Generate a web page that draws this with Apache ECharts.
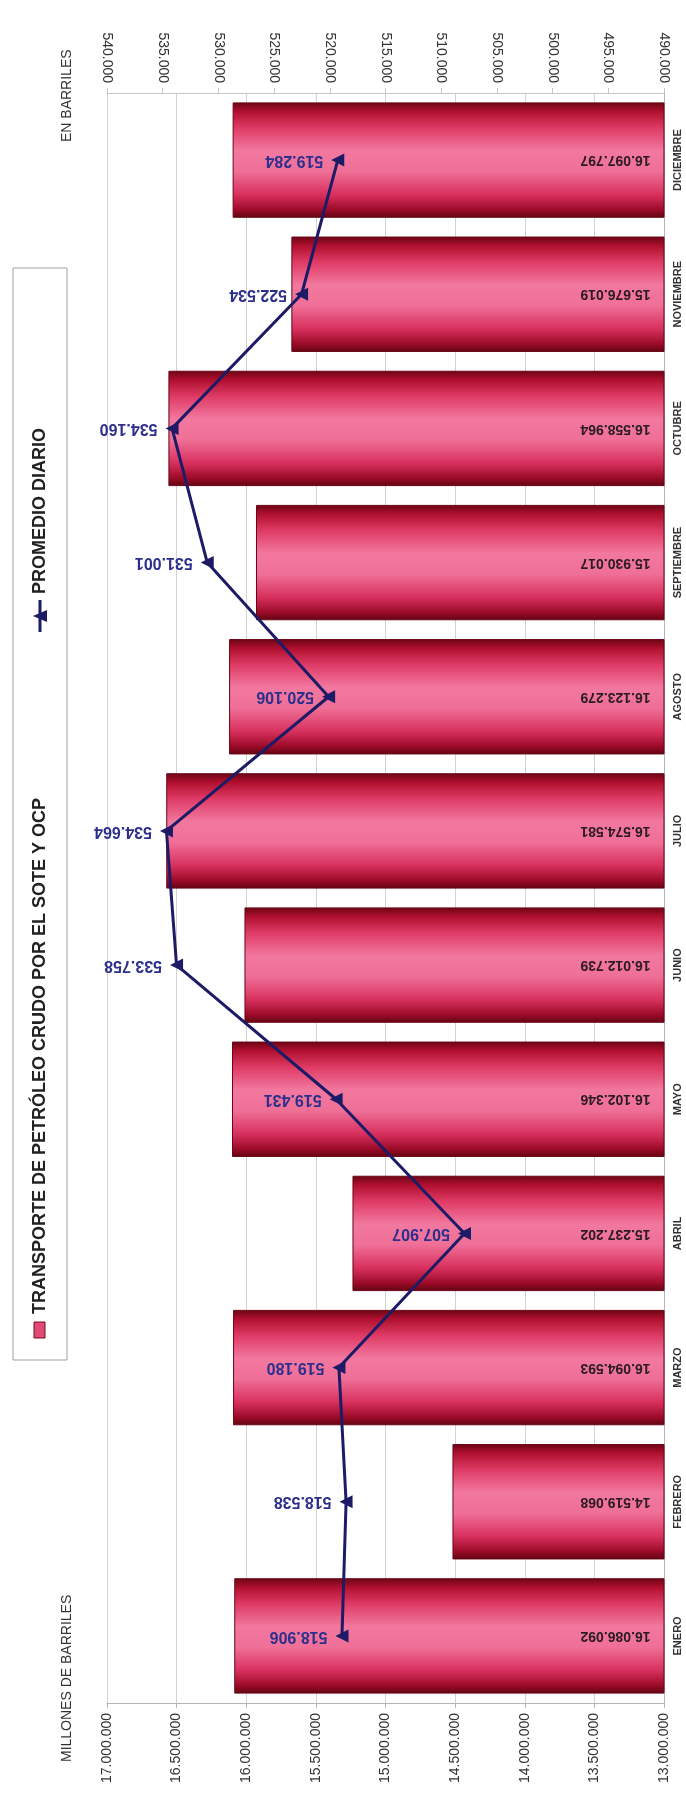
<!DOCTYPE html>
<html>
<head>
<meta charset="utf-8">
<script src="https://cdn.jsdelivr.net/npm/echarts@6/dist/echarts.min.js"></script>
<style>
html,body{margin:0;padding:0;background:#fff;}
#chart{width:686px;height:1796px;}
</style>
</head>
<body>
<div id="chart"></div>
<script>
// ---- data ----
const months = ['ENERO','FEBRERO','MARZO','ABRIL','MAYO','JUNIO','JULIO','AGOSTO','SEPTIEMBRE','OCTUBRE','NOVIEMBRE','DICIEMBRE'];
const transporte = [16086092, 14519068, 16094593, 15237202, 16102346, 16012739, 16574581, 16123279, 15930017, 16558964, 15676019, 16097797];
const promedio = [518906, 518538, 519180, 507907, 519431, 533758, 534664, 520106, 531001, 534160, 522534, 519284];
const barTicks = {min: 13000000, max: 17000000, interval: 500000};
const lineTicks = {min: 490000, max: 540000, interval: 5000};
const legendBar = 'TRANSPORTE DE PETRÓLEO CRUDO POR EL SOTE Y OCP';
const legendLine = 'PROMEDIO DIARIO';
const nameLeft = 'MILLONES DE BARRILES';
const nameRight = 'EN BARRILES';

const fmt = v => String(Math.round(v)).replace(/\B(?=(\d{3})+(?!\d))/g, '.');
const FONT = '"Liberation Sans", Arial, sans-serif';

const barGrad = new echarts.graphic.LinearGradient(0, 0, 0, 1, [
  {offset: 0, color: '#6a0515'},
  {offset: 0.08, color: '#b0102e'},
  {offset: 0.22, color: '#de3a65'},
  {offset: 0.42, color: '#f2789f'},
  {offset: 0.6, color: '#ef6f97'},
  {offset: 0.8, color: '#d8305e'},
  {offset: 0.93, color: '#9c0b28'},
  {offset: 1, color: '#610512'}
]);

const chart = echarts.init(document.getElementById('chart'));
const option = {
  backgroundColor: '#fff',
  animation: false,
  textStyle: {fontFamily: FONT},
  grid: {left: 107, right: 22, top: 93, bottom: 93},
  xAxis: [
    {
      type: 'value', position: 'bottom', inverse: true,
      min: barTicks.min, max: barTicks.max, interval: barTicks.interval,
      axisLine: {show: true, lineStyle: {color: '#b5b5b5'}},
      axisTick: {show: true, lineStyle: {color: '#b5b5b5'}},
      splitLine: {show: true, lineStyle: {color: '#d2d2d2', width: 1}},
      axisLabel: {rotate: 90, fontSize: 14, color: '#333', margin: 10, formatter: fmt, fontFamily: FONT}
    },
    {
      type: 'value', position: 'top', inverse: true,
      min: lineTicks.min, max: lineTicks.max, interval: lineTicks.interval,
      axisLine: {show: true, lineStyle: {color: '#c5c5c5'}},
      axisTick: {show: true, lineStyle: {color: '#c5c5c5'}},
      splitLine: {show: false},
      axisLabel: {rotate: 90, fontSize: 14, color: '#333', margin: 10, formatter: fmt, fontFamily: FONT}
    }
  ],
  yAxis: [{
    type: 'category', position: 'right', data: months,
    axisLine: {show: true, lineStyle: {color: '#b5b5b5'}},
    axisTick: {show: false},
    axisLabel: {rotate: 90, fontSize: 11, fontWeight: 'bold', color: '#333', margin: 8, fontFamily: FONT}
  }],
  series: [
    {
      name: legendBar, type: 'bar', xAxisIndex: 0, yAxisIndex: 0,
      data: transporte, barWidth: '86%', clip: true,
      itemStyle: {color: barGrad, borderColor: '#6a0515', borderWidth: 1},
      label: {
        show: true, position: 'insideRight', distance: 14, rotate: 180,
        align: 'left', verticalAlign: 'middle', fontWeight: 'bold',
        formatter: p => fmt(p.value), fontSize: 14, color: '#2a1a22', fontFamily: FONT
      },
      z: 2
    },
    {
      name: legendLine, type: 'line', xAxisIndex: 1, yAxisIndex: 0,
      data: promedio,
      symbol: 'triangle', symbolSize: 13, symbolRotate: 90,
      lineStyle: {color: '#1d1a66', width: 3},
      itemStyle: {color: '#1d1a66'},
      label: {
        show: true, position: 'left', distance: 8, rotate: 180,
        align: 'left', verticalAlign: 'middle', fontWeight: 'bold',
        formatter: p => fmt(p.value), fontSize: 16, color: '#2c2f8c', fontFamily: FONT
      },
      z: 5
    }
  ],
  graphic: [
    {type: 'text', x: 67, y: 142, rotation: Math.PI / 2,
     style: {text: nameRight, font: '14px ' + FONT, fill: '#333', textAlign: 'left', textVerticalAlign: 'middle'}},
    {type: 'text', x: 67, y: 1762, rotation: Math.PI / 2,
     style: {text: nameLeft, font: '14px ' + FONT, fill: '#333', textAlign: 'left', textVerticalAlign: 'middle'}},
    {type: 'rect', shape: {x: 13, y: 268, width: 54, height: 1092},
     style: {fill: '#fff', stroke: '#a0a0a0', lineWidth: 1}, z: 10},
    {type: 'rect', shape: {x: 34, y: 1322, width: 11, height: 16},
     style: {fill: '#e04a75', stroke: '#7a0a1a', lineWidth: 1}, z: 11},
    {type: 'text', x: 40, y: 1314, rotation: Math.PI / 2, z: 11,
     style: {text: legendBar, font: 'bold 18px ' + FONT, fill: '#222', textAlign: 'left', textVerticalAlign: 'middle'}},
    {type: 'line', shape: {x1: 40, y1: 632, x2: 40, y2: 600}, z: 11,
     style: {stroke: '#1d1a66', lineWidth: 3}},
    {type: 'polygon', shape: {points: [[33, 616], [47, 610], [47, 622]]}, z: 11,
     style: {fill: '#1d1a66'}},
    {type: 'text', x: 40, y: 594, rotation: Math.PI / 2, z: 11,
     style: {text: legendLine, font: 'bold 18px ' + FONT, fill: '#222', textAlign: 'left', textVerticalAlign: 'middle'}}
  ]
};
chart.setOption(option);
</script>
</body>
</html>
